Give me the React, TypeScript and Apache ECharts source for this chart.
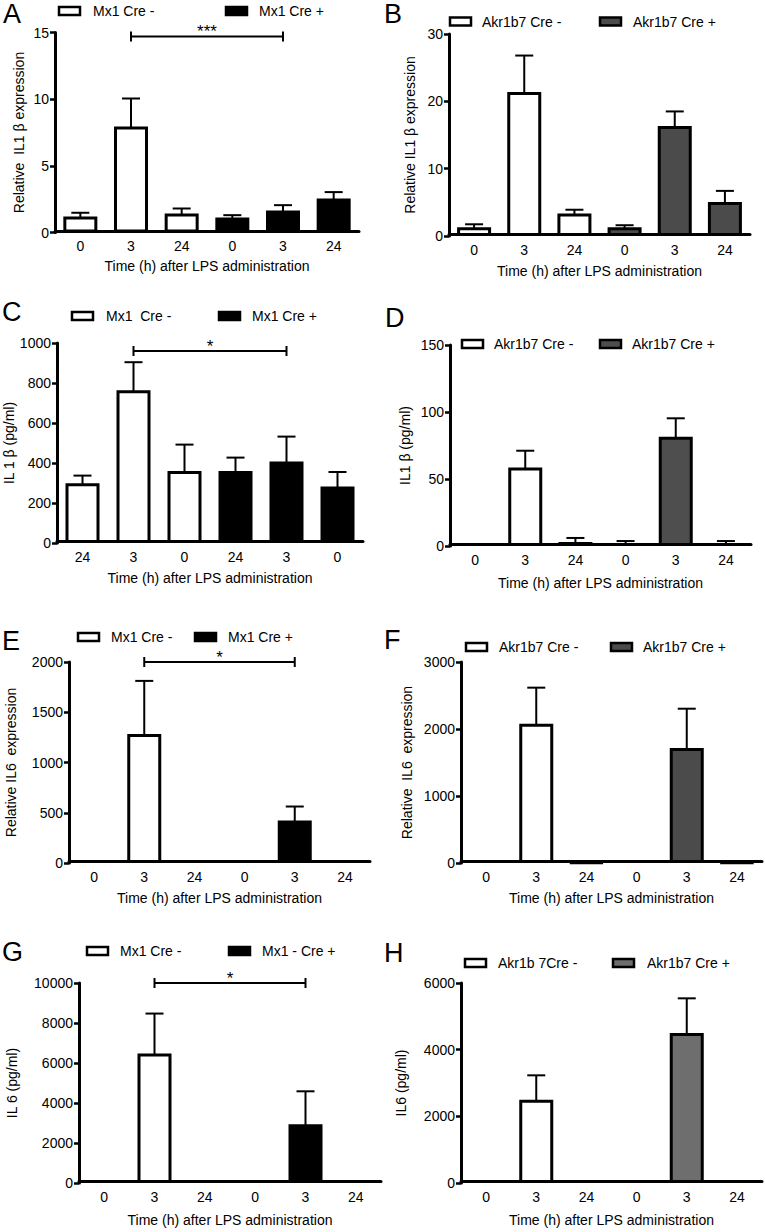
import React, { useEffect, useRef } from "react";
import * as echarts from "echarts";

const FONT = "Liberation Sans";

// ---------- DATA ----------
// Tick labels (time after LPS, h)
const catsStd = ["0", "3", "24", "0", "3", "24"];
const catsC = ["24", "3", "0", "24", "3", "0"];

// Panel A: Relative IL1β expression (Mx1)
const aNegMean = [1.2, 7.95, 1.42];
const aNegSem = [0.28, 2.1, 0.38];
const aPosMean = [1.13, 1.65, 2.55];
const aPosSem = [0.17, 0.4, 0.48];

// Panel B: Relative IL1β expression (Akr1b7)
const bNegMean = [1.3, 21.4, 3.35];
const bNegSem = [0.44, 5.4, 0.55];
const bPosMean = [1.3, 16.35, 5.05];
const bPosSem = [0.3, 2.15, 1.65];

// Panel C: IL1β pg/ml (Mx1)
const cNegMean = [299, 764, 360];
const cNegSem = [38, 140, 132];
const cPosMean = [360, 407, 282];
const cPosSem = [67, 125, 73];

// Panel D: IL1β pg/ml (Akr1b7)
const dNegMean = [0, 58.5, 3];
const dNegSem = [0, 12.6, 3];
const dPosMean = [2.3, 81.5, 2.2];
const dPosSem = [1.4, 13.8, 1.5];

// Panel E: Relative IL6 expression (Mx1)
const eNegMean = [0, 1283, 0];
const eNegSem = [0, 529, 0];
const ePosMean = [0, 423, 0];
const ePosSem = [0, 139, 0];

// Panel F: Relative IL6 expression (Akr1b7)
const fNegMean = [0, 2080, 10];
const fNegSem = [0, 537, 0];
const fPosMean = [0, 1716, 8];
const fPosSem = [0, 587, 0];

// Panel G: IL6 pg/ml (Mx1)
const gNegMean = [0, 6478, 0];
const gNegSem = [0, 1994, 0];
const gPosMean = [0, 2940, 0];
const gPosSem = [0, 1645, 0];

// Panel H: IL6 pg/ml (Akr1b7)
const hNegMean = [0, 2500, 0];
const hNegSem = [0, 730, 0];
const hPosMean = [0, 4500, 0];
const hPosSem = [0, 1040, 0];

// Significance brackets: [fromCategory, toCategory, yValue, label]
const bracketA: [number, number, number, string] = [1, 4, 14.7, "***"];
const bracketC: [number, number, number, string] = [1, 4, 960, "*"];
const bracketE: [number, number, number, string] = [1, 4, 2000, "*"];
const bracketG: [number, number, number, string] = [1, 4, 10000, "*"];

const xTitle = "Time (h) after LPS administration";

// ---------- LAYOUT / STYLE ----------
type Panel = {
  letter: string;
  letterPos: [number, number];
  grid: { left: number; top: number; width: number; height: number };
  yMax: number;
  yInt: number;
  yName: string;
  yNameGap: number;
  xNameGap: number;
  cats: string[];
  negMean: number[];
  negSem: number[];
  posMean: number[];
  posSem: number[];
  posColor: string;
  legendY: number;
  leg1: [number, number, string];
  leg2: [number, number, string];
  bracket?: [number, number, number, string];
};

const panels: Panel[] = [
  {
    letter: "A", letterPos: [3, 14],
    grid: { left: 55, top: 32.5, width: 304, height: 200 },
    yMax: 15, yInt: 5, yName: "Relative  IL1 β expression", yNameGap: 29, xNameGap: 28,
    cats: catsStd, negMean: aNegMean, negSem: aNegSem, posMean: aPosMean, posSem: aPosSem,
    posColor: "#000000", legendY: 11,
    leg1: [58, 93, "Mx1 Cre -"], leg2: [225, 259, "Mx1 Cre +"], bracket: bracketA,
  },
  {
    letter: "B", letterPos: [384, 14],
    grid: { left: 449, top: 34, width: 301, height: 202 },
    yMax: 30, yInt: 10, yName: "Relative IL1 β expression", yNameGap: 32, xNameGap: 29,
    cats: catsStd, negMean: bNegMean, negSem: bNegSem, posMean: bPosMean, posSem: bPosSem,
    posColor: "#4b4b4b", legendY: 21.5,
    leg1: [449, 482, "Akr1b7 Cre -"], leg2: [599, 633, "Akr1b7 Cre +"],
  },
  {
    letter: "C", letterPos: [2, 312],
    grid: { left: 57, top: 343, width: 306, height: 200 },
    yMax: 1000, yInt: 200, yName: "IL 1 β (pg/ml)", yNameGap: 38, xNameGap: 29,
    cats: catsC, negMean: cNegMean, negSem: cNegSem, posMean: cPosMean, posSem: cPosSem,
    posColor: "#000000", legendY: 316,
    leg1: [71, 106, "Mx1  Cre -"], leg2: [218, 252, "Mx1 Cre +"], bracket: bracketC,
  },
  {
    letter: "D", letterPos: [385, 318],
    grid: { left: 450, top: 345, width: 301, height: 201 },
    yMax: 150, yInt: 50, yName: "IL1 β (pg/ml)", yNameGap: 38, xNameGap: 31,
    cats: catsStd, negMean: dNegMean, negSem: dNegSem, posMean: dPosMean, posSem: dPosSem,
    posColor: "#4e4e4e", legendY: 344,
    leg1: [461, 494, "Akr1b7 Cre -"], leg2: [599, 632, "Akr1b7 Cre +"],
  },
  {
    letter: "E", letterPos: [2, 641],
    grid: { left: 69, top: 662, width: 301, height: 201 },
    yMax: 2000, yInt: 500, yName: "Relative IL6  expression", yNameGap: 51, xNameGap: 29,
    cats: catsStd, negMean: eNegMean, negSem: eNegSem, posMean: ePosMean, posSem: ePosSem,
    posColor: "#000000", legendY: 637,
    leg1: [77, 111, "Mx1 Cre -"], leg2: [194, 228, "Mx1 Cre +"], bracket: bracketE,
  },
  {
    letter: "F", letterPos: [384, 640],
    grid: { left: 461, top: 662, width: 301, height: 201 },
    yMax: 3000, yInt: 1000, yName: "Relative  IL6  expression", yNameGap: 47, xNameGap: 29,
    cats: catsStd, negMean: fNegMean, negSem: fNegSem, posMean: fPosMean, posSem: fPosSem,
    posColor: "#4b4b4b", legendY: 647,
    leg1: [465, 499, "Akr1b7 Cre -"], leg2: [610, 643, "Akr1b7 Cre +"],
  },
  {
    letter: "G", letterPos: [2, 952],
    grid: { left: 79, top: 983, width: 302, height: 200 },
    yMax: 10000, yInt: 2000, yName: "IL 6 (pg/ml)", yNameGap: 60, xNameGap: 31,
    cats: catsStd, negMean: gNegMean, negSem: gNegSem, posMean: gPosMean, posSem: gPosSem,
    posColor: "#000000", legendY: 951,
    leg1: [86, 120, "Mx1 Cre -"], leg2: [228, 262, "Mx1 - Cre +"], bracket: bracketG,
  },
  {
    letter: "H", letterPos: [384, 953],
    grid: { left: 461, top: 983, width: 301, height: 200 },
    yMax: 6000, yInt: 2000, yName: "IL6 (pg/ml)", yNameGap: 53, xNameGap: 31,
    cats: catsStd, negMean: hNegMean, negSem: hNegSem, posMean: hPosMean, posSem: hPosSem,
    posColor: "#6e6e6e", legendY: 963,
    leg1: [464, 498, "Akr1b 7Cre -"], leg2: [612, 647, "Akr1b7 Cre +"],
  },
];

const barVal = (v: number) => (v > 0 ? v : "-");

function buildOption() {
  const grids: any[] = [];
  const xAxes: any[] = [];
  const yAxes: any[] = [];
  const series: any[] = [];
  const graphics: any[] = [];

  panels.forEach((p, i) => {
    grids.push({ ...p.grid, containLabel: false, outerBoundsMode: "none" });
    xAxes.push({
      type: "category",
      gridIndex: i,
      data: p.cats,
      boundaryGap: true,
      offset: -1.5,
      z: 10,
      axisLine: { show: true, onZero: false, lineStyle: { color: "#000", width: 3 } },
      axisTick: { show: false },
      axisLabel: { color: "#000", fontSize: 14, fontFamily: FONT, margin: 8, interval: 0 },
      splitLine: { show: false },
      name: xTitle,
      nameLocation: "middle",
      nameGap: p.xNameGap,
      nameTextStyle: { color: "#000", fontSize: 14, fontFamily: FONT },
    });
    yAxes.push({
      type: "value",
      gridIndex: i,
      min: 0,
      max: p.yMax,
      interval: p.yInt,
      z: 10,
      axisLine: { show: true, lineStyle: { color: "#000", width: 3 } },
      axisTick: { show: true, length: 5, lineStyle: { color: "#000", width: 2.5 } },
      axisLabel: {
        color: "#000",
        fontSize: 14,
        fontFamily: FONT,
        margin: 6,
        formatter: (v: number) => String(v),
      },
      splitLine: { show: false },
      name: p.yName,
      nameLocation: "middle",
      nameGap: p.yNameGap,
      nameRotate: 90,
      nameTextStyle: { color: "#000", fontSize: 14, fontFamily: FONT },
    });

    const negData = [...p.negMean.map(barVal), "-", "-", "-"];
    const posData = ["-", "-", "-", ...p.posMean.map(barVal)];
    series.push({
      type: "bar",
      name: p.leg1[2],
      xAxisIndex: i,
      yAxisIndex: i,
      data: negData,
      barWidth: 34,
      barGap: "-100%",
      itemStyle: { color: "#ffffff", borderColor: "#000", borderWidth: 3 },
      z: 2,
    });
    series.push({
      type: "bar",
      name: p.leg2[2],
      xAxisIndex: i,
      yAxisIndex: i,
      data: posData,
      barWidth: 34,
      barGap: "-100%",
      itemStyle: { color: p.posColor, borderColor: "#000", borderWidth: 3 },
      z: 2,
    });

    const errData: number[][] = [];
    p.negMean.forEach((m, k) => {
      if (p.negSem[k] > 0) errData.push([k, m, p.negSem[k]]);
    });
    p.posMean.forEach((m, k) => {
      if (p.posSem[k] > 0) errData.push([k + 3, m, p.posSem[k]]);
    });
    series.push({
      type: "custom",
      xAxisIndex: i,
      yAxisIndex: i,
      data: errData,
      z: 3,
      silent: true,
      renderItem: (_params: any, api: any) => {
        const x = api.value(0);
        const m = api.value(1);
        const e = api.value(2);
        const p0 = api.coord([x, m]);
        const p1 = api.coord([x, m + e]);
        const st = { stroke: "#000", lineWidth: 2 };
        return {
          type: "group",
          children: [
            { type: "line", shape: { x1: p0[0], y1: p0[1] + 1.5, x2: p1[0], y2: p1[1] }, style: st },
            { type: "line", shape: { x1: p1[0] - 9, y1: p1[1], x2: p1[0] + 9, y2: p1[1] }, style: st },
          ],
        };
      },
    });

    if (p.bracket) {
      const br = p.bracket;
      series.push({
        type: "custom",
        xAxisIndex: i,
        yAxisIndex: i,
        data: [[br[0], br[1], br[2]]],
        z: 4,
        silent: true,
        clip: false,
        renderItem: (_params: any, api: any) => {
          const a = api.coord([api.value(0), api.value(2)]);
          const b = api.coord([api.value(1), api.value(2)]);
          const st = { stroke: "#000", lineWidth: 2 };
          return {
            type: "group",
            children: [
              { type: "line", shape: { x1: a[0], y1: a[1], x2: b[0], y2: b[1] }, style: st },
              { type: "line", shape: { x1: a[0], y1: a[1] - 5, x2: a[0], y2: a[1] + 5 }, style: st },
              { type: "line", shape: { x1: b[0], y1: b[1] - 5, x2: b[0], y2: b[1] + 5 }, style: st },
              {
                type: "text",
                style: {
                  text: br[3],
                  x: (a[0] + b[0]) / 2,
                  y: a[1] - 5,
                  align: "center",
                  verticalAlign: "middle",
                  fontSize: 17,
                  fontFamily: FONT,
                  fill: "#000",
                },
              },
            ],
          };
        },
      });
    }

    // panel letter
    graphics.push({
      type: "text",
      x: p.letterPos[0],
      y: p.letterPos[1],
      style: { text: p.letter, fontSize: 27, fontFamily: FONT, fill: "#000", verticalAlign: "middle", align: "left" },
    });
    // legend
    const legendItems: [number, number, string, string][] = [
      [p.leg1[0], p.leg1[1], p.leg1[2], "#ffffff"],
      [p.leg2[0], p.leg2[1], p.leg2[2], p.posColor],
    ];
    legendItems.forEach(([bx, tx, label, fill]) => {
      graphics.push({
        type: "rect",
        shape: { x: bx + 1, y: p.legendY - 4, width: 21, height: 8 },
        style: { fill, stroke: "#000", lineWidth: 2.5 },
      });
      graphics.push({
        type: "text",
        x: tx,
        y: p.legendY,
        style: { text: label, fontSize: 14, fontFamily: FONT, fill: "#000", verticalAlign: "middle", align: "left" },
      });
    });
  });

  return {
    animation: false,
    backgroundColor: "#ffffff",
    textStyle: { fontFamily: FONT },
    grid: grids,
    xAxis: xAxes,
    yAxis: yAxes,
    series,
    graphic: graphics,
  };
}

export default function App() {
  const ref = useRef<HTMLDivElement>(null);
  useEffect(() => {
    document.body.style.margin = "0";
    if (!ref.current) return;
    const chart = echarts.init(ref.current, undefined, { renderer: "svg" });
    chart.setOption(buildOption() as any);
    return () => chart.dispose();
  }, []);
  return (
    <div
      ref={ref}
      style={{ position: "absolute", left: 0, top: 0, width: 765, height: 1232, background: "#fff" }}
    />
  );
}
